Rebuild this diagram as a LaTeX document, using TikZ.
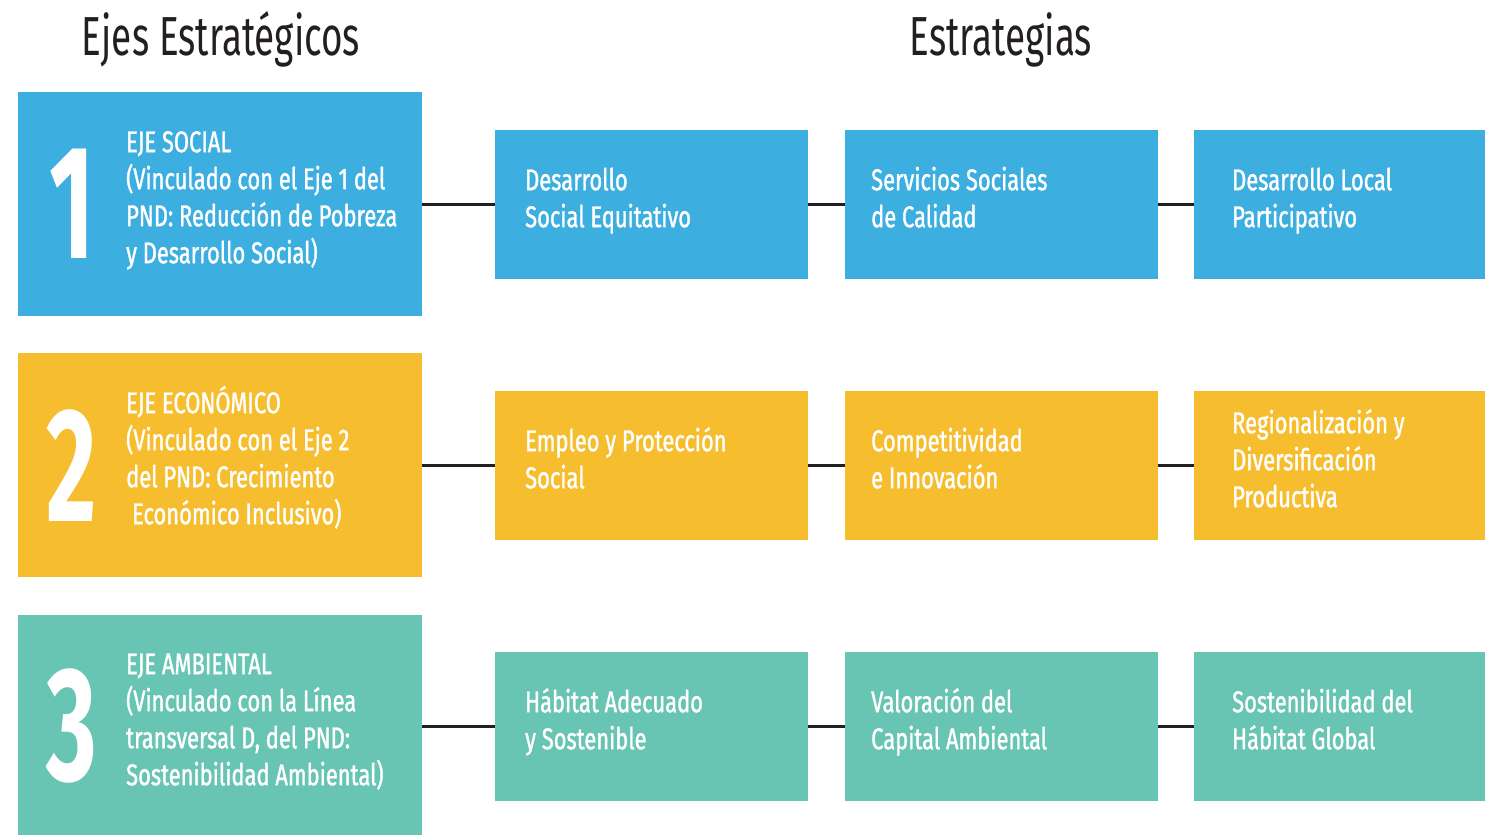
\documentclass[tikz,border=0pt]{standalone}
\usepackage{fontspec}
\setmainfont{Fira Sans}
\newfontfamily\condfont[FakeStretch=0.67]{Fira Sans}
\newfontfamily\condbold[FakeStretch=0.73,FakeBold=1.2]{Fira Sans}
\newfontfamily\numfont[FakeStretch=0.6]{Fira Sans}
\newcommand\myTopStrut{\rule{0pt}{32pt}}
\definecolor{cblue}{HTML}{3DAEE0}
\definecolor{cyellow}{HTML}{F6BE2F}
\definecolor{cteal}{HTML}{68C5B3}
\definecolor{cdark}{HTML}{231F20}
\tikzset{
  ejebox/.style={draw=none, inner sep=0pt, minimum width=404pt, anchor=north west},
  stratbox/.style={draw=none, inner sep=0pt, minimum height=149pt, anchor=north west},
  wideS/.style={minimum width=313pt},
  narrowS/.style={minimum width=291pt},
  num/.style={text=white, font=\numfont\fontsize{162}{162}\selectfont\bfseries, inner sep=0pt},
  boxtext/.style={text=white, align=left, anchor=north west, inner sep=0pt, font=\condbold\fontsize{30}{37}\selectfont},
  title/.style={text=cdark, anchor=base, inner sep=0pt, font=\condfont\fontsize{55}{55}\selectfont},
  conn/.style={draw=cdark, line width=2.5pt}
}
\begin{document}
\begin{tikzpicture}[x=1pt,y=-1pt]
\useasboundingbox (0,0) rectangle (1485,835);
% titles
\node[title] (t1) at (221,55) {Ejes Estratégicos};
\node[title] (t2) at (1001,55) {Estrategias};
% eje boxes
\node[ejebox, fill=cblue, minimum height=224pt] (e1) at (18,92) {};
\node[ejebox, fill=cyellow, minimum height=224pt] (e2) at (18,353) {};
\node[ejebox, fill=cteal, minimum height=220pt] (e3) at (18,615) {};
% numbers
\node[num] (n1) at (72,204) {1};
\node[num] (n2) at (72,466) {2};
\node[num] (n3) at (72,726) {3};
% eje texts
\node[boxtext] (x1) at (126,120) {\myTopStrut EJE SOCIAL\\(Vinculado con el Eje 1 del\\PND: Reducción de Pobreza\\y Desarrollo Social)};
\node[boxtext] (x2) at (126,381) {\myTopStrut EJE ECONÓMICO\\(Vinculado con el Eje 2\\del PND: Crecimiento\\\hspace*{6pt}Económico Inclusivo)};
\node[boxtext] (x3) at (126,642) {\myTopStrut EJE AMBIENTAL\\(Vinculado con la Línea\\transversal D, del PND:\\Sostenibilidad Ambiental)};
% strategy boxes
\node[stratbox, wideS, fill=cblue] (s11) at (495,130) {};
\node[stratbox, wideS, fill=cblue] (s12) at (845,130) {};
\node[stratbox, narrowS, fill=cblue] (s13) at (1194,130) {};
\node[stratbox, wideS, fill=cyellow] (s21) at (495,391) {};
\node[stratbox, wideS, fill=cyellow] (s22) at (845,391) {};
\node[stratbox, narrowS, fill=cyellow] (s23) at (1194,391) {};
\node[stratbox, wideS, fill=cteal] (s31) at (495,652) {};
\node[stratbox, wideS, fill=cteal] (s32) at (845,652) {};
\node[stratbox, narrowS, fill=cteal] (s33) at (1194,652) {};
% strategy texts
\node[boxtext] (l11) at (525,158) {\myTopStrut Desarrollo\\Social Equitativo};
\node[boxtext] (l12) at (871,158) {\myTopStrut Servicios Sociales\\de Calidad};
\node[boxtext] (l13) at (1232,158) {\myTopStrut Desarrollo Local\\Participativo};
\node[boxtext] (l21) at (525,419) {\myTopStrut Empleo y Protección\\Social};
\node[boxtext] (l22) at (871,419) {\myTopStrut Competitividad\\e Innovación};
\node[boxtext] (l23) at (1232,401) {\myTopStrut Regionalización y\\Diversificación\\Productiva};
\node[boxtext] (l31) at (525,680) {\myTopStrut Hábitat Adecuado\\y Sostenible};
\node[boxtext] (l32) at (871,680) {\myTopStrut Valoración del\\Capital Ambiental};
\node[boxtext] (l33) at (1232,680) {\myTopStrut Sostenibilidad del\\Hábitat Global};
% connectors
\draw[conn] (e1.east |- s11.west) -- (s11.west);
\draw[conn] (s11.east) -- (s12.west);
\draw[conn] (s12.east) -- (s13.west);
\draw[conn] (e2.east |- s21.west) -- (s21.west);
\draw[conn] (s21.east) -- (s22.west);
\draw[conn] (s22.east) -- (s23.west);
\draw[conn] (e3.east |- s31.west) -- (s31.west);
\draw[conn] (s31.east) -- (s32.west);
\draw[conn] (s32.east) -- (s33.west);
\end{tikzpicture}
\end{document}
